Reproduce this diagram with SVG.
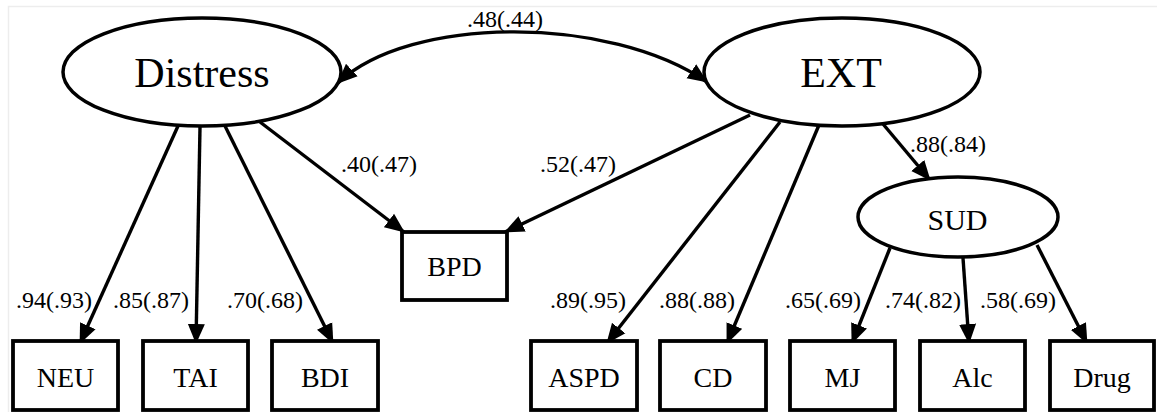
<svg xmlns="http://www.w3.org/2000/svg" width="1157" height="412" viewBox="0 0 1157 412">
<style>
text{font-family:"Liberation Serif","Times New Roman",Times,serif;fill:#000}
.lat{fill:#fff;stroke:#000;stroke-width:3.5}
.obs{fill:#fff;stroke:#000;stroke-width:3.8}
.big{font-size:42px;text-anchor:middle}
.mid{font-size:30px;text-anchor:middle}
.box{font-size:28px;text-anchor:middle}
.lbl{font-size:24px}
.edge{fill:none;stroke:#000;stroke-width:3.4;marker-end:url(#ah)}
</style>
<defs>
<marker id="ah" markerUnits="userSpaceOnUse" markerWidth="22" markerHeight="18" refX="19" refY="9" orient="auto-start-reverse" viewBox="0 0 22 18">
<path d="M0,0.5 L20,9 L0,17.5 Z" fill="#000"/>
</marker>
</defs>
<rect x="8.5" y="6.5" width="1160" height="420" fill="none" stroke="#ededed" stroke-width="1.5"/>
<g id="connectors">
<path class="edge" d="M338,83 C410,15 610,15 707,82" style="marker-start:url(#ah)"/>
<path class="edge" d="M178,126 L80,343"/>
<path class="edge" d="M200,127 L196,343"/>
<path class="edge" d="M225,126 L333,343"/>
<path class="edge" d="M260,122 L404,232"/>
<path class="edge" d="M750,115 L505,232"/>
<path class="edge" d="M780,122 L607,343"/>
<path class="edge" d="M819,125 L727,343"/>
<path class="edge" d="M883,124 L930,180"/>
<path class="edge" d="M890,248 L852,343"/>
<path class="edge" d="M963,258 L969,343"/>
<path class="edge" d="M1037,245 L1087,343"/>
<text class="lbl" x="467" y="27">.48(.44)</text>
<text class="lbl" x="341" y="172">.40(.47)</text>
<text class="lbl" x="540" y="172">.52(.47)</text>
<text class="lbl" x="910" y="152">.88(.84)</text>
<text class="lbl" x="16" y="308">.94(.93)</text>
<text class="lbl" x="113" y="308">.85(.87)</text>
<text class="lbl" x="227" y="308">.70(.68)</text>
<text class="lbl" x="550" y="308">.89(.95)</text>
<text class="lbl" x="659" y="308">.88(.88)</text>
<text class="lbl" x="785" y="308">.65(.69)</text>
<text class="lbl" x="885" y="308">.74(.82)</text>
<text class="lbl" x="980" y="308">.58(.69)</text>
</g>
<g id="Distress"><ellipse class="lat" cx="202" cy="72" rx="139" ry="54"/><text class="big" x="202" y="87">Distress</text></g>
<g id="EXT"><ellipse class="lat" cx="842" cy="72" rx="138" ry="54"/><text class="big" x="841" y="87">EXT</text></g>
<g id="SUD"><ellipse class="lat" cx="958" cy="217" rx="100" ry="40"/><text class="mid" x="957.5" y="230">SUD</text></g>
<g id="BPD"><rect class="obs" x="402" y="232" width="105" height="68"/><text class="box" x="454.5" y="276">BPD</text></g>
<g id="NEU"><rect class="obs" x="13" y="341" width="105" height="69"/><text class="box" x="65.5" y="387">NEU</text></g>
<g id="TAI"><rect class="obs" x="143" y="341" width="105" height="69"/><text class="box" x="195.5" y="387">TAI</text></g>
<g id="BDI"><rect class="obs" x="272" y="341" width="106" height="69"/><text class="box" x="325" y="387">BDI</text></g>
<g id="ASPD"><rect class="obs" x="531" y="341" width="106" height="69"/><text class="box" x="584" y="387">ASPD</text></g>
<g id="CD"><rect class="obs" x="660" y="341" width="106" height="69"/><text class="box" x="713" y="387">CD</text></g>
<g id="MJ"><rect class="obs" x="790" y="341" width="105" height="69"/><text class="box" x="842.5" y="387">MJ</text></g>
<g id="Alc"><rect class="obs" x="920" y="341" width="105" height="69"/><text class="box" x="972.5" y="387">Alc</text></g>
<g id="Drug"><rect class="obs" x="1050" y="341" width="104" height="69"/><text class="box" x="1102" y="387">Drug</text></g>
</svg>
